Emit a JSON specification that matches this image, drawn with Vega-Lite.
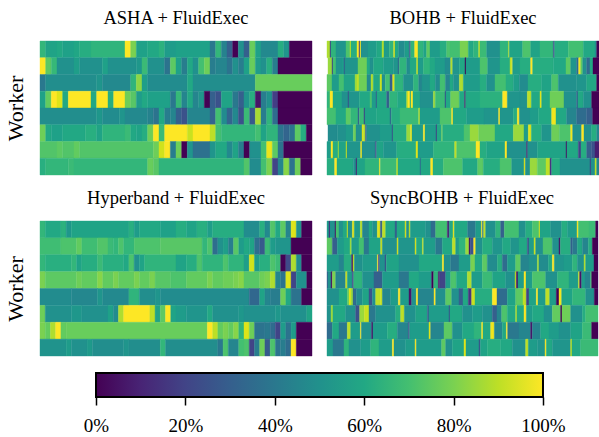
{"$schema":"https://vega.github.io/schema/vega-lite/v6.json","background":"white","padding":{"left":4,"top":9,"right":0,"bottom":0},"config":{"view":{"stroke":null},"font":"Liberation Serif","title":{"font":"Liberation Serif","fontSize":18.5,"fontWeight":"normal","color":"black","offset":13}},"spacing":15,"datasets":{"a":[
{"w":0,"s":0,"e":1,"v":66},{"w":0,"s":1,"e":3,"v":58},{"w":0,"s":3,"e":4,"v":60},{"w":0,"s":4,"e":6,"v":57},{"w":0,"s":6,"e":7,"v":59},{"w":0,"s":7,"e":9,"v":62},{"w":0,"s":9,"e":15,"v":65},{"w":0,"s":15,"e":16,"v":100},{"w":0,"s":16,"e":17,"v":80},{"w":0,"s":17,"e":19,"v":57},{"w":0,"s":19,"e":21,"v":60},{"w":0,"s":21,"e":22,"v":64},{"w":0,"s":22,"e":24,"v":55},{"w":0,"s":24,"e":30,"v":57},{"w":0,"s":30,"e":31,"v":40},{"w":0,"s":31,"e":32,"v":66},{"w":0,"s":32,"e":33,"v":44},{"w":0,"s":33,"e":34,"v":30},{"w":0,"s":34,"e":35,"v":0},{"w":0,"s":35,"e":36,"v":50},{"w":0,"s":36,"e":37,"v":30},{"w":0,"s":37,"e":38,"v":77},{"w":0,"s":38,"e":39,"v":57},{"w":0,"s":39,"e":42,"v":47},{"w":0,"s":42,"e":43,"v":62},{"w":0,"s":43,"e":44,"v":52},{"w":0,"s":44,"e":48,"v":0},
{"w":1,"s":0,"e":1,"v":100},{"w":1,"s":1,"e":2,"v":75},{"w":1,"s":2,"e":3,"v":67},{"w":1,"s":3,"e":6,"v":50},{"w":1,"s":6,"e":7,"v":56},{"w":1,"s":7,"e":11,"v":50},{"w":1,"s":11,"e":12,"v":57},{"w":1,"s":12,"e":17,"v":50},{"w":1,"s":17,"e":18,"v":53},{"w":1,"s":18,"e":19,"v":68},{"w":1,"s":19,"e":22,"v":50},{"w":1,"s":22,"e":23,"v":38},{"w":1,"s":23,"e":24,"v":75},{"w":1,"s":24,"e":25,"v":57},{"w":1,"s":25,"e":26,"v":42},{"w":1,"s":26,"e":27,"v":60},{"w":1,"s":27,"e":28,"v":50},{"w":1,"s":28,"e":29,"v":70},{"w":1,"s":29,"e":30,"v":78},{"w":1,"s":30,"e":31,"v":42},{"w":1,"s":31,"e":33,"v":45},{"w":1,"s":33,"e":34,"v":38},{"w":1,"s":34,"e":35,"v":50},{"w":1,"s":35,"e":36,"v":42},{"w":1,"s":36,"e":37,"v":57},{"w":1,"s":37,"e":38,"v":77},{"w":1,"s":38,"e":39,"v":55},{"w":1,"s":39,"e":40,"v":50},{"w":1,"s":40,"e":41,"v":63},{"w":1,"s":41,"e":42,"v":42},{"w":1,"s":42,"e":48,"v":0},
{"w":2,"s":0,"e":1,"v":40},{"w":2,"s":1,"e":10,"v":49},{"w":2,"s":10,"e":11,"v":52},{"w":2,"s":11,"e":16,"v":47},{"w":2,"s":16,"e":17,"v":65},{"w":2,"s":17,"e":18,"v":83},{"w":2,"s":18,"e":19,"v":56},{"w":2,"s":19,"e":26,"v":48},{"w":2,"s":26,"e":27,"v":60},{"w":2,"s":27,"e":38,"v":49},{"w":2,"s":38,"e":48,"v":77},
{"w":3,"s":0,"e":1,"v":57},{"w":3,"s":1,"e":2,"v":76},{"w":3,"s":2,"e":3,"v":100},{"w":3,"s":3,"e":4,"v":95},{"w":3,"s":4,"e":5,"v":60},{"w":3,"s":5,"e":9,"v":100},{"w":3,"s":9,"e":10,"v":60},{"w":3,"s":10,"e":12,"v":100},{"w":3,"s":12,"e":13,"v":62},{"w":3,"s":13,"e":15,"v":100},{"w":3,"s":15,"e":16,"v":78},{"w":3,"s":16,"e":17,"v":74},{"w":3,"s":17,"e":18,"v":55},{"w":3,"s":18,"e":19,"v":60},{"w":3,"s":19,"e":23,"v":57},{"w":3,"s":23,"e":24,"v":40},{"w":3,"s":24,"e":25,"v":67},{"w":3,"s":25,"e":26,"v":45},{"w":3,"s":26,"e":27,"v":60},{"w":3,"s":27,"e":28,"v":45},{"w":3,"s":28,"e":29,"v":52},{"w":3,"s":29,"e":30,"v":0},{"w":3,"s":30,"e":31,"v":30},{"w":3,"s":31,"e":32,"v":25},{"w":3,"s":32,"e":34,"v":58},{"w":3,"s":34,"e":35,"v":40},{"w":3,"s":35,"e":36,"v":30},{"w":3,"s":36,"e":37,"v":52},{"w":3,"s":37,"e":38,"v":63},{"w":3,"s":38,"e":39,"v":5},{"w":3,"s":39,"e":40,"v":42},{"w":3,"s":40,"e":41,"v":50},{"w":3,"s":41,"e":42,"v":18},{"w":3,"s":42,"e":48,"v":0},
{"w":4,"s":0,"e":10,"v":49},{"w":4,"s":10,"e":11,"v":53},{"w":4,"s":11,"e":14,"v":48},{"w":4,"s":14,"e":15,"v":52},{"w":4,"s":15,"e":19,"v":47},{"w":4,"s":19,"e":20,"v":44},{"w":4,"s":20,"e":21,"v":38},{"w":4,"s":21,"e":22,"v":60},{"w":4,"s":22,"e":23,"v":42},{"w":4,"s":23,"e":24,"v":45},{"w":4,"s":24,"e":25,"v":30},{"w":4,"s":25,"e":26,"v":25},{"w":4,"s":26,"e":30,"v":45},{"w":4,"s":30,"e":31,"v":32},{"w":4,"s":31,"e":32,"v":70},{"w":4,"s":32,"e":33,"v":48},{"w":4,"s":33,"e":34,"v":32},{"w":4,"s":34,"e":35,"v":47},{"w":4,"s":35,"e":36,"v":25},{"w":4,"s":36,"e":37,"v":68},{"w":4,"s":37,"e":38,"v":28},{"w":4,"s":38,"e":39,"v":87},{"w":4,"s":39,"e":40,"v":42},{"w":4,"s":40,"e":41,"v":65},{"w":4,"s":41,"e":42,"v":35},{"w":4,"s":42,"e":48,"v":0},
{"w":5,"s":0,"e":1,"v":78},{"w":5,"s":1,"e":2,"v":60},{"w":5,"s":2,"e":4,"v":57},{"w":5,"s":4,"e":8,"v":60},{"w":5,"s":8,"e":10,"v":63},{"w":5,"s":10,"e":11,"v":58},{"w":5,"s":11,"e":15,"v":65},{"w":5,"s":15,"e":16,"v":68},{"w":5,"s":16,"e":17,"v":60},{"w":5,"s":17,"e":18,"v":58},{"w":5,"s":18,"e":19,"v":62},{"w":5,"s":19,"e":20,"v":78},{"w":5,"s":20,"e":21,"v":100},{"w":5,"s":21,"e":22,"v":68},{"w":5,"s":22,"e":26,"v":100},{"w":5,"s":26,"e":27,"v":92},{"w":5,"s":27,"e":30,"v":100},{"w":5,"s":30,"e":31,"v":90},{"w":5,"s":31,"e":32,"v":70},{"w":5,"s":32,"e":38,"v":66},{"w":5,"s":38,"e":39,"v":70},{"w":5,"s":39,"e":40,"v":58},{"w":5,"s":40,"e":42,"v":65},{"w":5,"s":42,"e":43,"v":38},{"w":5,"s":43,"e":44,"v":32},{"w":5,"s":44,"e":45,"v":38},{"w":5,"s":45,"e":46,"v":75},{"w":5,"s":46,"e":47,"v":62},{"w":5,"s":47,"e":48,"v":0},
{"w":6,"s":0,"e":3,"v":73},{"w":6,"s":3,"e":4,"v":75},{"w":6,"s":4,"e":6,"v":73},{"w":6,"s":6,"e":7,"v":76},{"w":6,"s":7,"e":20,"v":73},{"w":6,"s":20,"e":21,"v":78},{"w":6,"s":21,"e":22,"v":93},{"w":6,"s":22,"e":23,"v":100},{"w":6,"s":23,"e":24,"v":42},{"w":6,"s":24,"e":25,"v":78},{"w":6,"s":25,"e":26,"v":0},{"w":6,"s":26,"e":27,"v":52},{"w":6,"s":27,"e":30,"v":37},{"w":6,"s":30,"e":31,"v":52},{"w":6,"s":31,"e":33,"v":60},{"w":6,"s":33,"e":34,"v":47},{"w":6,"s":34,"e":35,"v":58},{"w":6,"s":35,"e":36,"v":42},{"w":6,"s":36,"e":37,"v":0},{"w":6,"s":37,"e":39,"v":50},{"w":6,"s":39,"e":40,"v":70},{"w":6,"s":40,"e":41,"v":97},{"w":6,"s":41,"e":42,"v":75},{"w":6,"s":42,"e":43,"v":38},{"w":6,"s":43,"e":48,"v":0},
{"w":7,"s":0,"e":1,"v":63},{"w":7,"s":1,"e":5,"v":66},{"w":7,"s":5,"e":6,"v":68},{"w":7,"s":6,"e":19,"v":66},{"w":7,"s":19,"e":20,"v":77},{"w":7,"s":20,"e":21,"v":74},{"w":7,"s":21,"e":36,"v":65},{"w":7,"s":36,"e":37,"v":73},{"w":7,"s":37,"e":39,"v":48},{"w":7,"s":39,"e":40,"v":70},{"w":7,"s":40,"e":41,"v":80},{"w":7,"s":41,"e":42,"v":20},{"w":7,"s":42,"e":43,"v":45},{"w":7,"s":43,"e":44,"v":82},{"w":7,"s":44,"e":45,"v":38},{"w":7,"s":45,"e":46,"v":78},{"w":7,"s":46,"e":48,"v":0}
],"b":[
{"w":0,"s":21,"e":30,"v":88},{"w":0,"s":30,"e":33,"v":20},{"w":0,"s":33,"e":48,"v":65},{"w":0,"s":48,"e":78,"v":52},{"w":0,"s":78,"e":90,"v":72},{"w":0,"s":90,"e":93,"v":92},{"w":0,"s":93,"e":111,"v":62},{"w":0,"s":111,"e":117,"v":100},{"w":0,"s":117,"e":120,"v":20},{"w":0,"s":120,"e":123,"v":100},{"w":0,"s":123,"e":144,"v":50},{"w":0,"s":144,"e":170,"v":55},{"w":0,"s":170,"e":186,"v":60},{"w":0,"s":186,"e":192,"v":88},{"w":0,"s":192,"e":208,"v":55},{"w":0,"s":208,"e":221,"v":65},{"w":0,"s":221,"e":225,"v":95},{"w":0,"s":225,"e":236,"v":60},{"w":0,"s":236,"e":254,"v":48},{"w":0,"s":254,"e":268,"v":55},{"w":0,"s":268,"e":272,"v":25},{"w":0,"s":272,"e":284,"v":65},{"w":0,"s":284,"e":294,"v":100},{"w":0,"s":294,"e":310,"v":65},{"w":0,"s":310,"e":320,"v":58},{"w":0,"s":320,"e":330,"v":75},{"w":0,"s":330,"e":360,"v":55},{"w":0,"s":360,"e":380,"v":62},{"w":0,"s":380,"e":390,"v":72},{"w":0,"s":390,"e":420,"v":70},{"w":0,"s":420,"e":445,"v":80},{"w":0,"s":445,"e":460,"v":60},{"w":0,"s":460,"e":476,"v":65},{"w":0,"s":476,"e":480,"v":90},{"w":0,"s":480,"e":500,"v":68},{"w":0,"s":500,"e":540,"v":50},{"w":0,"s":540,"e":565,"v":65},{"w":0,"s":565,"e":568,"v":88},{"w":0,"s":568,"e":608,"v":58},{"w":0,"s":608,"e":632,"v":72},{"w":0,"s":632,"e":660,"v":58},{"w":0,"s":660,"e":700,"v":66},{"w":0,"s":700,"e":704,"v":25},{"w":0,"s":704,"e":745,"v":62},{"w":0,"s":745,"e":790,"v":70},{"w":0,"s":790,"e":825,"v":60},{"w":0,"s":825,"e":830,"v":50},{"w":0,"s":830,"e":837,"v":0},
{"w":1,"s":24,"e":36,"v":85},{"w":1,"s":36,"e":39,"v":20},{"w":1,"s":39,"e":48,"v":70},{"w":1,"s":48,"e":66,"v":52},{"w":1,"s":66,"e":72,"v":55},{"w":1,"s":72,"e":75,"v":30},{"w":1,"s":75,"e":114,"v":52},{"w":1,"s":114,"e":141,"v":78},{"w":1,"s":141,"e":150,"v":60},{"w":1,"s":150,"e":160,"v":50},{"w":1,"s":160,"e":190,"v":60},{"w":1,"s":190,"e":220,"v":55},{"w":1,"s":220,"e":234,"v":52},{"w":1,"s":234,"e":238,"v":35},{"w":1,"s":238,"e":260,"v":65},{"w":1,"s":260,"e":270,"v":48},{"w":1,"s":270,"e":290,"v":60},{"w":1,"s":290,"e":294,"v":92},{"w":1,"s":294,"e":310,"v":55},{"w":1,"s":310,"e":330,"v":65},{"w":1,"s":330,"e":345,"v":60},{"w":1,"s":345,"e":375,"v":55},{"w":1,"s":375,"e":392,"v":48},{"w":1,"s":392,"e":398,"v":88},{"w":1,"s":398,"e":418,"v":52},{"w":1,"s":418,"e":435,"v":60},{"w":1,"s":435,"e":438,"v":0},{"w":1,"s":438,"e":480,"v":55},{"w":1,"s":480,"e":503,"v":72},{"w":1,"s":503,"e":540,"v":52},{"w":1,"s":540,"e":570,"v":62},{"w":1,"s":570,"e":574,"v":90},{"w":1,"s":574,"e":578,"v":92},{"w":1,"s":578,"e":600,"v":55},{"w":1,"s":600,"e":632,"v":62},{"w":1,"s":632,"e":638,"v":100},{"w":1,"s":638,"e":700,"v":62},{"w":1,"s":700,"e":738,"v":60},{"w":1,"s":738,"e":752,"v":75},{"w":1,"s":752,"e":770,"v":52},{"w":1,"s":770,"e":776,"v":35},{"w":1,"s":776,"e":782,"v":98},{"w":1,"s":782,"e":788,"v":75},{"w":1,"s":788,"e":800,"v":50},{"w":1,"s":800,"e":810,"v":35},{"w":1,"s":810,"e":819,"v":60},{"w":1,"s":819,"e":837,"v":0},
{"w":2,"s":21,"e":36,"v":75},{"w":2,"s":36,"e":57,"v":55},{"w":2,"s":57,"e":72,"v":70},{"w":2,"s":72,"e":105,"v":58},{"w":2,"s":105,"e":111,"v":85},{"w":2,"s":111,"e":117,"v":90},{"w":2,"s":117,"e":141,"v":78},{"w":2,"s":141,"e":153,"v":48},{"w":2,"s":153,"e":160,"v":88},{"w":2,"s":160,"e":180,"v":60},{"w":2,"s":180,"e":186,"v":92},{"w":2,"s":186,"e":196,"v":50},{"w":2,"s":196,"e":210,"v":70},{"w":2,"s":210,"e":218,"v":30},{"w":2,"s":218,"e":224,"v":95},{"w":2,"s":224,"e":250,"v":65},{"w":2,"s":250,"e":280,"v":50},{"w":2,"s":280,"e":296,"v":65},{"w":2,"s":296,"e":306,"v":45},{"w":2,"s":306,"e":330,"v":52},{"w":2,"s":330,"e":346,"v":60},{"w":2,"s":346,"e":360,"v":48},{"w":2,"s":360,"e":376,"v":70},{"w":2,"s":376,"e":390,"v":45},{"w":2,"s":390,"e":400,"v":60},{"w":2,"s":400,"e":418,"v":50},{"w":2,"s":418,"e":430,"v":88},{"w":2,"s":430,"e":480,"v":55},{"w":2,"s":480,"e":500,"v":62},{"w":2,"s":500,"e":525,"v":50},{"w":2,"s":525,"e":558,"v":70},{"w":2,"s":558,"e":580,"v":62},{"w":2,"s":580,"e":598,"v":56},{"w":2,"s":598,"e":624,"v":48},{"w":2,"s":624,"e":665,"v":62},{"w":2,"s":665,"e":695,"v":58},{"w":2,"s":695,"e":715,"v":72},{"w":2,"s":715,"e":770,"v":50},{"w":2,"s":770,"e":800,"v":52},{"w":2,"s":800,"e":830,"v":60},{"w":2,"s":830,"e":837,"v":0},
{"w":3,"s":21,"e":30,"v":65},{"w":3,"s":30,"e":39,"v":100},{"w":3,"s":39,"e":66,"v":60},{"w":3,"s":66,"e":84,"v":50},{"w":3,"s":84,"e":87,"v":25},{"w":3,"s":87,"e":118,"v":52},{"w":3,"s":118,"e":150,"v":60},{"w":3,"s":150,"e":156,"v":72},{"w":3,"s":156,"e":168,"v":55},{"w":3,"s":168,"e":171,"v":30},{"w":3,"s":171,"e":200,"v":60},{"w":3,"s":200,"e":208,"v":30},{"w":3,"s":208,"e":232,"v":65},{"w":3,"s":232,"e":260,"v":60},{"w":3,"s":260,"e":264,"v":90},{"w":3,"s":264,"e":270,"v":100},{"w":3,"s":270,"e":273,"v":60},{"w":3,"s":273,"e":279,"v":100},{"w":3,"s":279,"e":300,"v":60},{"w":3,"s":300,"e":340,"v":50},{"w":3,"s":340,"e":346,"v":85},{"w":3,"s":346,"e":375,"v":68},{"w":3,"s":375,"e":378,"v":25},{"w":3,"s":378,"e":392,"v":60},{"w":3,"s":392,"e":418,"v":78},{"w":3,"s":418,"e":434,"v":60},{"w":3,"s":434,"e":437,"v":5},{"w":3,"s":437,"e":480,"v":60},{"w":3,"s":480,"e":548,"v":64},{"w":3,"s":548,"e":562,"v":100},{"w":3,"s":562,"e":600,"v":52},{"w":3,"s":600,"e":622,"v":50},{"w":3,"s":622,"e":634,"v":90},{"w":3,"s":634,"e":660,"v":60},{"w":3,"s":660,"e":665,"v":95},{"w":3,"s":665,"e":690,"v":60},{"w":3,"s":690,"e":732,"v":78},{"w":3,"s":732,"e":770,"v":50},{"w":3,"s":770,"e":774,"v":30},{"w":3,"s":774,"e":790,"v":60},{"w":3,"s":790,"e":815,"v":50},{"w":3,"s":815,"e":837,"v":0},
{"w":4,"s":21,"e":48,"v":70},{"w":4,"s":48,"e":78,"v":60},{"w":4,"s":78,"e":92,"v":75},{"w":4,"s":92,"e":114,"v":66},{"w":4,"s":114,"e":118,"v":30},{"w":4,"s":118,"e":132,"v":68},{"w":4,"s":132,"e":135,"v":20},{"w":4,"s":135,"e":170,"v":58},{"w":4,"s":170,"e":210,"v":60},{"w":4,"s":210,"e":214,"v":35},{"w":4,"s":214,"e":240,"v":62},{"w":4,"s":240,"e":296,"v":68},{"w":4,"s":296,"e":300,"v":88},{"w":4,"s":300,"e":360,"v":55},{"w":4,"s":360,"e":395,"v":72},{"w":4,"s":395,"e":399,"v":100},{"w":4,"s":399,"e":440,"v":60},{"w":4,"s":440,"e":492,"v":55},{"w":4,"s":492,"e":536,"v":52},{"w":4,"s":536,"e":540,"v":100},{"w":4,"s":540,"e":580,"v":52},{"w":4,"s":580,"e":592,"v":62},{"w":4,"s":592,"e":598,"v":100},{"w":4,"s":598,"e":630,"v":50},{"w":4,"s":630,"e":655,"v":55},{"w":4,"s":655,"e":695,"v":60},{"w":4,"s":695,"e":708,"v":98},{"w":4,"s":708,"e":740,"v":60},{"w":4,"s":740,"e":770,"v":45},{"w":4,"s":770,"e":800,"v":35},{"w":4,"s":800,"e":818,"v":30},{"w":4,"s":818,"e":837,"v":0},
{"w":5,"s":24,"e":52,"v":48},{"w":5,"s":52,"e":78,"v":50},{"w":5,"s":78,"e":100,"v":55},{"w":5,"s":100,"e":108,"v":78},{"w":5,"s":108,"e":126,"v":50},{"w":5,"s":126,"e":130,"v":95},{"w":5,"s":130,"e":136,"v":90},{"w":5,"s":136,"e":140,"v":30},{"w":5,"s":140,"e":180,"v":50},{"w":5,"s":180,"e":216,"v":55},{"w":5,"s":216,"e":219,"v":25},{"w":5,"s":219,"e":260,"v":62},{"w":5,"s":260,"e":272,"v":85},{"w":5,"s":272,"e":276,"v":98},{"w":5,"s":276,"e":310,"v":55},{"w":5,"s":310,"e":315,"v":100},{"w":5,"s":315,"e":348,"v":55},{"w":5,"s":348,"e":351,"v":20},{"w":5,"s":351,"e":365,"v":60},{"w":5,"s":365,"e":368,"v":80},{"w":5,"s":368,"e":432,"v":62},{"w":5,"s":432,"e":450,"v":72},{"w":5,"s":450,"e":476,"v":85},{"w":5,"s":476,"e":525,"v":78},{"w":5,"s":525,"e":580,"v":60},{"w":5,"s":580,"e":612,"v":85},{"w":5,"s":612,"e":625,"v":55},{"w":5,"s":625,"e":634,"v":95},{"w":5,"s":634,"e":665,"v":62},{"w":5,"s":665,"e":695,"v":52},{"w":5,"s":695,"e":718,"v":78},{"w":5,"s":718,"e":752,"v":72},{"w":5,"s":752,"e":758,"v":98},{"w":5,"s":758,"e":785,"v":50},{"w":5,"s":785,"e":792,"v":100},{"w":5,"s":792,"e":815,"v":50},{"w":5,"s":815,"e":830,"v":62},{"w":5,"s":830,"e":837,"v":45},
{"w":6,"s":21,"e":33,"v":55},{"w":6,"s":33,"e":39,"v":100},{"w":6,"s":39,"e":54,"v":62},{"w":6,"s":54,"e":57,"v":85},{"w":6,"s":57,"e":78,"v":58},{"w":6,"s":78,"e":81,"v":92},{"w":6,"s":81,"e":122,"v":52},{"w":6,"s":122,"e":126,"v":98},{"w":6,"s":126,"e":166,"v":50},{"w":6,"s":166,"e":170,"v":25},{"w":6,"s":170,"e":190,"v":58},{"w":6,"s":190,"e":230,"v":52},{"w":6,"s":230,"e":288,"v":62},{"w":6,"s":288,"e":294,"v":95},{"w":6,"s":294,"e":340,"v":55},{"w":6,"s":340,"e":404,"v":65},{"w":6,"s":404,"e":410,"v":90},{"w":6,"s":410,"e":468,"v":72},{"w":6,"s":468,"e":480,"v":100},{"w":6,"s":480,"e":500,"v":62},{"w":6,"s":500,"e":555,"v":58},{"w":6,"s":555,"e":561,"v":100},{"w":6,"s":561,"e":620,"v":50},{"w":6,"s":620,"e":623,"v":5},{"w":6,"s":623,"e":652,"v":50},{"w":6,"s":652,"e":738,"v":58},{"w":6,"s":738,"e":741,"v":5},{"w":6,"s":741,"e":775,"v":60},{"w":6,"s":775,"e":783,"v":20},{"w":6,"s":783,"e":800,"v":62},{"w":6,"s":800,"e":815,"v":30},{"w":6,"s":815,"e":825,"v":25},{"w":6,"s":825,"e":837,"v":8},
{"w":7,"s":21,"e":44,"v":62},{"w":7,"s":44,"e":51,"v":100},{"w":7,"s":51,"e":100,"v":60},{"w":7,"s":100,"e":108,"v":50},{"w":7,"s":108,"e":111,"v":10},{"w":7,"s":111,"e":135,"v":58},{"w":7,"s":135,"e":178,"v":65},{"w":7,"s":178,"e":181,"v":98},{"w":7,"s":181,"e":230,"v":68},{"w":7,"s":230,"e":234,"v":90},{"w":7,"s":234,"e":300,"v":60},{"w":7,"s":300,"e":303,"v":35},{"w":7,"s":303,"e":332,"v":60},{"w":7,"s":332,"e":339,"v":100},{"w":7,"s":339,"e":370,"v":62},{"w":7,"s":370,"e":428,"v":72},{"w":7,"s":428,"e":473,"v":60},{"w":7,"s":473,"e":490,"v":75},{"w":7,"s":490,"e":540,"v":62},{"w":7,"s":540,"e":575,"v":72},{"w":7,"s":575,"e":612,"v":52},{"w":7,"s":612,"e":616,"v":95},{"w":7,"s":616,"e":630,"v":50},{"w":7,"s":630,"e":652,"v":85},{"w":7,"s":652,"e":678,"v":75},{"w":7,"s":678,"e":690,"v":90},{"w":7,"s":690,"e":695,"v":15},{"w":7,"s":695,"e":720,"v":62},{"w":7,"s":720,"e":810,"v":50},{"w":7,"s":810,"e":813,"v":20},{"w":7,"s":813,"e":825,"v":50},{"w":7,"s":825,"e":830,"v":90},{"w":7,"s":830,"e":837,"v":45}
],"c":[
{"w":0,"s":0,"e":1,"v":66},{"w":0,"s":1,"e":4,"v":60},{"w":0,"s":4,"e":5,"v":64},{"w":0,"s":5,"e":6,"v":53},{"w":0,"s":6,"e":17,"v":58},{"w":0,"s":17,"e":18,"v":63},{"w":0,"s":18,"e":19,"v":55},{"w":0,"s":19,"e":23,"v":60},{"w":0,"s":23,"e":26,"v":57},{"w":0,"s":26,"e":28,"v":62},{"w":0,"s":28,"e":30,"v":58},{"w":0,"s":30,"e":32,"v":63},{"w":0,"s":32,"e":33,"v":56},{"w":0,"s":33,"e":39,"v":62},{"w":0,"s":39,"e":42,"v":48},{"w":0,"s":42,"e":43,"v":63},{"w":0,"s":43,"e":44,"v":47},{"w":0,"s":44,"e":45,"v":73},{"w":0,"s":45,"e":46,"v":60},{"w":0,"s":46,"e":47,"v":75},{"w":0,"s":47,"e":48,"v":45},{"w":0,"s":48,"e":49,"v":95},{"w":0,"s":49,"e":50,"v":50},{"w":0,"s":50,"e":52,"v":0},
{"w":1,"s":0,"e":4,"v":69},{"w":1,"s":4,"e":7,"v":72},{"w":1,"s":7,"e":8,"v":76},{"w":1,"s":8,"e":11,"v":69},{"w":1,"s":11,"e":13,"v":73},{"w":1,"s":13,"e":14,"v":68},{"w":1,"s":14,"e":15,"v":66},{"w":1,"s":15,"e":16,"v":72},{"w":1,"s":16,"e":18,"v":66},{"w":1,"s":18,"e":23,"v":72},{"w":1,"s":23,"e":31,"v":74},{"w":1,"s":31,"e":32,"v":66},{"w":1,"s":32,"e":33,"v":72},{"w":1,"s":33,"e":34,"v":36},{"w":1,"s":34,"e":35,"v":50},{"w":1,"s":35,"e":36,"v":56},{"w":1,"s":36,"e":37,"v":42},{"w":1,"s":37,"e":38,"v":74},{"w":1,"s":38,"e":39,"v":55},{"w":1,"s":39,"e":40,"v":60},{"w":1,"s":40,"e":41,"v":58},{"w":1,"s":41,"e":42,"v":36},{"w":1,"s":42,"e":43,"v":28},{"w":1,"s":43,"e":44,"v":68},{"w":1,"s":44,"e":45,"v":55},{"w":1,"s":45,"e":48,"v":52},{"w":1,"s":48,"e":52,"v":0},
{"w":2,"s":0,"e":1,"v":66},{"w":2,"s":1,"e":6,"v":63},{"w":2,"s":6,"e":7,"v":66},{"w":2,"s":7,"e":8,"v":58},{"w":2,"s":8,"e":11,"v":62},{"w":2,"s":11,"e":12,"v":68},{"w":2,"s":12,"e":16,"v":63},{"w":2,"s":16,"e":17,"v":60},{"w":2,"s":17,"e":18,"v":72},{"w":2,"s":18,"e":19,"v":50},{"w":2,"s":19,"e":20,"v":58},{"w":2,"s":20,"e":26,"v":65},{"w":2,"s":26,"e":28,"v":58},{"w":2,"s":28,"e":30,"v":62},{"w":2,"s":30,"e":31,"v":72},{"w":2,"s":31,"e":35,"v":65},{"w":2,"s":35,"e":36,"v":72},{"w":2,"s":36,"e":39,"v":65},{"w":2,"s":39,"e":40,"v":56},{"w":2,"s":40,"e":41,"v":93},{"w":2,"s":41,"e":42,"v":55},{"w":2,"s":42,"e":44,"v":63},{"w":2,"s":44,"e":45,"v":72},{"w":2,"s":45,"e":46,"v":68},{"w":2,"s":46,"e":47,"v":0},{"w":2,"s":47,"e":48,"v":22},{"w":2,"s":48,"e":49,"v":88},{"w":2,"s":49,"e":50,"v":48},{"w":2,"s":50,"e":52,"v":0},
{"w":3,"s":0,"e":1,"v":80},{"w":3,"s":1,"e":7,"v":75},{"w":3,"s":7,"e":8,"v":78},{"w":3,"s":8,"e":11,"v":76},{"w":3,"s":11,"e":12,"v":82},{"w":3,"s":12,"e":14,"v":76},{"w":3,"s":14,"e":15,"v":80},{"w":3,"s":15,"e":18,"v":76},{"w":3,"s":18,"e":19,"v":80},{"w":3,"s":19,"e":21,"v":76},{"w":3,"s":21,"e":22,"v":80},{"w":3,"s":22,"e":25,"v":74},{"w":3,"s":25,"e":28,"v":72},{"w":3,"s":28,"e":32,"v":76},{"w":3,"s":32,"e":33,"v":80},{"w":3,"s":33,"e":35,"v":76},{"w":3,"s":35,"e":37,"v":78},{"w":3,"s":37,"e":38,"v":80},{"w":3,"s":38,"e":39,"v":82},{"w":3,"s":39,"e":42,"v":74},{"w":3,"s":42,"e":43,"v":78},{"w":3,"s":43,"e":44,"v":80},{"w":3,"s":44,"e":45,"v":88},{"w":3,"s":45,"e":46,"v":45},{"w":3,"s":46,"e":47,"v":38},{"w":3,"s":47,"e":48,"v":95},{"w":3,"s":48,"e":49,"v":20},{"w":3,"s":49,"e":51,"v":50},{"w":3,"s":51,"e":52,"v":0},
{"w":4,"s":0,"e":6,"v":48},{"w":4,"s":6,"e":11,"v":46},{"w":4,"s":11,"e":12,"v":52},{"w":4,"s":12,"e":17,"v":47},{"w":4,"s":17,"e":19,"v":65},{"w":4,"s":19,"e":22,"v":49},{"w":4,"s":22,"e":23,"v":52},{"w":4,"s":23,"e":40,"v":48},{"w":4,"s":40,"e":42,"v":33},{"w":4,"s":42,"e":43,"v":58},{"w":4,"s":43,"e":44,"v":45},{"w":4,"s":44,"e":46,"v":42},{"w":4,"s":46,"e":47,"v":78},{"w":4,"s":47,"e":48,"v":60},{"w":4,"s":48,"e":50,"v":38},{"w":4,"s":50,"e":52,"v":0},
{"w":5,"s":0,"e":1,"v":78},{"w":5,"s":1,"e":6,"v":50},{"w":5,"s":6,"e":8,"v":53},{"w":5,"s":8,"e":13,"v":50},{"w":5,"s":13,"e":14,"v":57},{"w":5,"s":14,"e":15,"v":48},{"w":5,"s":15,"e":16,"v":88},{"w":5,"s":16,"e":21,"v":100},{"w":5,"s":21,"e":22,"v":90},{"w":5,"s":22,"e":23,"v":58},{"w":5,"s":23,"e":24,"v":75},{"w":5,"s":24,"e":25,"v":100},{"w":5,"s":25,"e":26,"v":58},{"w":5,"s":26,"e":28,"v":55},{"w":5,"s":28,"e":32,"v":52},{"w":5,"s":32,"e":33,"v":60},{"w":5,"s":33,"e":38,"v":50},{"w":5,"s":38,"e":39,"v":53},{"w":5,"s":39,"e":45,"v":50},{"w":5,"s":45,"e":46,"v":53},{"w":5,"s":46,"e":51,"v":50},{"w":5,"s":51,"e":52,"v":58},
{"w":6,"s":0,"e":1,"v":80},{"w":6,"s":1,"e":2,"v":76},{"w":6,"s":2,"e":3,"v":88},{"w":6,"s":3,"e":4,"v":100},{"w":6,"s":4,"e":5,"v":76},{"w":6,"s":5,"e":32,"v":77},{"w":6,"s":32,"e":33,"v":100},{"w":6,"s":33,"e":34,"v":90},{"w":6,"s":34,"e":35,"v":76},{"w":6,"s":35,"e":36,"v":80},{"w":6,"s":36,"e":37,"v":76},{"w":6,"s":37,"e":38,"v":82},{"w":6,"s":38,"e":39,"v":65},{"w":6,"s":39,"e":40,"v":95},{"w":6,"s":40,"e":41,"v":78},{"w":6,"s":41,"e":43,"v":38},{"w":6,"s":43,"e":44,"v":40},{"w":6,"s":44,"e":45,"v":35},{"w":6,"s":45,"e":46,"v":20},{"w":6,"s":46,"e":47,"v":55},{"w":6,"s":47,"e":48,"v":38},{"w":6,"s":48,"e":49,"v":55},{"w":6,"s":49,"e":52,"v":0},
{"w":7,"s":0,"e":5,"v":51},{"w":7,"s":5,"e":6,"v":55},{"w":7,"s":6,"e":9,"v":50},{"w":7,"s":9,"e":10,"v":54},{"w":7,"s":10,"e":16,"v":49},{"w":7,"s":16,"e":17,"v":52},{"w":7,"s":17,"e":23,"v":49},{"w":7,"s":23,"e":24,"v":66},{"w":7,"s":24,"e":34,"v":49},{"w":7,"s":34,"e":35,"v":40},{"w":7,"s":35,"e":36,"v":72},{"w":7,"s":36,"e":38,"v":45},{"w":7,"s":38,"e":39,"v":70},{"w":7,"s":39,"e":40,"v":72},{"w":7,"s":40,"e":41,"v":20},{"w":7,"s":41,"e":42,"v":42},{"w":7,"s":42,"e":43,"v":78},{"w":7,"s":43,"e":44,"v":28},{"w":7,"s":44,"e":45,"v":72},{"w":7,"s":45,"e":46,"v":38},{"w":7,"s":46,"e":47,"v":42},{"w":7,"s":47,"e":48,"v":35},{"w":7,"s":48,"e":49,"v":100},{"w":7,"s":49,"e":52,"v":0}
],"d":[
{"w":0,"s":24,"e":30,"v":55},{"w":0,"s":30,"e":33,"v":10},{"w":0,"s":33,"e":48,"v":50},{"w":0,"s":48,"e":51,"v":5},{"w":0,"s":51,"e":60,"v":70},{"w":0,"s":60,"e":72,"v":50},{"w":0,"s":72,"e":84,"v":60},{"w":0,"s":84,"e":87,"v":92},{"w":0,"s":87,"e":100,"v":50},{"w":0,"s":100,"e":106,"v":95},{"w":0,"s":106,"e":124,"v":55},{"w":0,"s":124,"e":130,"v":90},{"w":0,"s":130,"e":150,"v":45},{"w":0,"s":150,"e":160,"v":60},{"w":0,"s":160,"e":175,"v":50},{"w":0,"s":175,"e":184,"v":95},{"w":0,"s":184,"e":190,"v":30},{"w":0,"s":190,"e":200,"v":90},{"w":0,"s":200,"e":228,"v":60},{"w":0,"s":228,"e":234,"v":30},{"w":0,"s":234,"e":258,"v":60},{"w":0,"s":258,"e":262,"v":95},{"w":0,"s":262,"e":270,"v":50},{"w":0,"s":270,"e":274,"v":90},{"w":0,"s":274,"e":320,"v":55},{"w":0,"s":320,"e":336,"v":50},{"w":0,"s":336,"e":350,"v":35},{"w":0,"s":350,"e":385,"v":70},{"w":0,"s":385,"e":391,"v":10},{"w":0,"s":391,"e":402,"v":60},{"w":0,"s":402,"e":406,"v":98},{"w":0,"s":406,"e":446,"v":60},{"w":0,"s":446,"e":470,"v":40},{"w":0,"s":470,"e":487,"v":55},{"w":0,"s":487,"e":490,"v":100},{"w":0,"s":490,"e":494,"v":40},{"w":0,"s":494,"e":500,"v":90},{"w":0,"s":500,"e":530,"v":50},{"w":0,"s":530,"e":545,"v":65},{"w":0,"s":545,"e":556,"v":30},{"w":0,"s":556,"e":600,"v":70},{"w":0,"s":600,"e":620,"v":50},{"w":0,"s":620,"e":640,"v":62},{"w":0,"s":640,"e":660,"v":72},{"w":0,"s":660,"e":663,"v":95},{"w":0,"s":663,"e":695,"v":58},{"w":0,"s":695,"e":728,"v":50},{"w":0,"s":728,"e":745,"v":62},{"w":0,"s":745,"e":774,"v":55},{"w":0,"s":774,"e":778,"v":100},{"w":0,"s":778,"e":810,"v":70},{"w":0,"s":810,"e":830,"v":68},{"w":0,"s":830,"e":837,"v":0},
{"w":1,"s":24,"e":40,"v":75},{"w":1,"s":40,"e":55,"v":30},{"w":1,"s":55,"e":75,"v":55},{"w":1,"s":75,"e":93,"v":60},{"w":1,"s":93,"e":98,"v":85},{"w":1,"s":98,"e":120,"v":55},{"w":1,"s":120,"e":135,"v":70},{"w":1,"s":135,"e":150,"v":40},{"w":1,"s":150,"e":185,"v":58},{"w":1,"s":185,"e":190,"v":92},{"w":1,"s":190,"e":234,"v":50},{"w":1,"s":234,"e":238,"v":95},{"w":1,"s":238,"e":288,"v":52},{"w":1,"s":288,"e":292,"v":95},{"w":1,"s":292,"e":310,"v":60},{"w":1,"s":310,"e":314,"v":90},{"w":1,"s":314,"e":350,"v":55},{"w":1,"s":350,"e":370,"v":40},{"w":1,"s":370,"e":400,"v":60},{"w":1,"s":400,"e":410,"v":90},{"w":1,"s":410,"e":420,"v":55},{"w":1,"s":420,"e":440,"v":65},{"w":1,"s":440,"e":450,"v":85},{"w":1,"s":450,"e":454,"v":5},{"w":1,"s":454,"e":464,"v":25},{"w":1,"s":464,"e":470,"v":100},{"w":1,"s":470,"e":490,"v":50},{"w":1,"s":490,"e":520,"v":62},{"w":1,"s":520,"e":550,"v":52},{"w":1,"s":550,"e":575,"v":60},{"w":1,"s":575,"e":600,"v":52},{"w":1,"s":600,"e":625,"v":60},{"w":1,"s":625,"e":630,"v":25},{"w":1,"s":630,"e":645,"v":55},{"w":1,"s":645,"e":650,"v":92},{"w":1,"s":650,"e":672,"v":50},{"w":1,"s":672,"e":700,"v":72},{"w":1,"s":700,"e":720,"v":50},{"w":1,"s":720,"e":724,"v":5},{"w":1,"s":724,"e":755,"v":62},{"w":1,"s":755,"e":760,"v":30},{"w":1,"s":760,"e":775,"v":40},{"w":1,"s":775,"e":790,"v":60},{"w":1,"s":790,"e":808,"v":45},{"w":1,"s":808,"e":820,"v":62},{"w":1,"s":820,"e":837,"v":0},
{"w":2,"s":24,"e":60,"v":55},{"w":2,"s":60,"e":75,"v":45},{"w":2,"s":75,"e":98,"v":62},{"w":2,"s":98,"e":102,"v":5},{"w":2,"s":102,"e":106,"v":90},{"w":2,"s":106,"e":130,"v":50},{"w":2,"s":130,"e":175,"v":55},{"w":2,"s":175,"e":178,"v":100},{"w":2,"s":178,"e":182,"v":20},{"w":2,"s":182,"e":198,"v":50},{"w":2,"s":198,"e":202,"v":25},{"w":2,"s":202,"e":240,"v":58},{"w":2,"s":240,"e":300,"v":50},{"w":2,"s":300,"e":370,"v":60},{"w":2,"s":370,"e":375,"v":100},{"w":2,"s":375,"e":395,"v":50},{"w":2,"s":395,"e":420,"v":40},{"w":2,"s":420,"e":455,"v":55},{"w":2,"s":455,"e":468,"v":80},{"w":2,"s":468,"e":490,"v":60},{"w":2,"s":490,"e":505,"v":75},{"w":2,"s":505,"e":535,"v":48},{"w":2,"s":535,"e":550,"v":62},{"w":2,"s":550,"e":565,"v":35},{"w":2,"s":565,"e":590,"v":55},{"w":2,"s":590,"e":605,"v":75},{"w":2,"s":605,"e":630,"v":45},{"w":2,"s":630,"e":655,"v":50},{"w":2,"s":655,"e":660,"v":85},{"w":2,"s":660,"e":688,"v":48},{"w":2,"s":688,"e":700,"v":60},{"w":2,"s":700,"e":706,"v":100},{"w":2,"s":706,"e":735,"v":52},{"w":2,"s":735,"e":760,"v":55},{"w":2,"s":760,"e":775,"v":65},{"w":2,"s":775,"e":795,"v":50},{"w":2,"s":795,"e":800,"v":88},{"w":2,"s":800,"e":825,"v":55},{"w":2,"s":825,"e":837,"v":0},
{"w":3,"s":24,"e":27,"v":30},{"w":3,"s":27,"e":36,"v":50},{"w":3,"s":36,"e":40,"v":5},{"w":3,"s":40,"e":50,"v":80},{"w":3,"s":50,"e":80,"v":45},{"w":3,"s":80,"e":85,"v":92},{"w":3,"s":85,"e":100,"v":55},{"w":3,"s":100,"e":104,"v":20},{"w":3,"s":104,"e":130,"v":65},{"w":3,"s":130,"e":165,"v":50},{"w":3,"s":165,"e":190,"v":30},{"w":3,"s":190,"e":240,"v":55},{"w":3,"s":240,"e":270,"v":40},{"w":3,"s":270,"e":300,"v":60},{"w":3,"s":300,"e":338,"v":55},{"w":3,"s":338,"e":344,"v":0},{"w":3,"s":344,"e":358,"v":65},{"w":3,"s":358,"e":362,"v":5},{"w":3,"s":362,"e":380,"v":20},{"w":3,"s":380,"e":395,"v":55},{"w":3,"s":395,"e":412,"v":72},{"w":3,"s":412,"e":445,"v":60},{"w":3,"s":445,"e":458,"v":88},{"w":3,"s":458,"e":490,"v":55},{"w":3,"s":490,"e":520,"v":68},{"w":3,"s":520,"e":560,"v":58},{"w":3,"s":560,"e":588,"v":50},{"w":3,"s":588,"e":592,"v":90},{"w":3,"s":592,"e":597,"v":5},{"w":3,"s":597,"e":615,"v":55},{"w":3,"s":615,"e":621,"v":100},{"w":3,"s":621,"e":640,"v":55},{"w":3,"s":640,"e":680,"v":72},{"w":3,"s":680,"e":715,"v":50},{"w":3,"s":715,"e":750,"v":65},{"w":3,"s":750,"e":778,"v":55},{"w":3,"s":778,"e":782,"v":90},{"w":3,"s":782,"e":788,"v":5},{"w":3,"s":788,"e":798,"v":55},{"w":3,"s":798,"e":815,"v":45},{"w":3,"s":815,"e":818,"v":70},{"w":3,"s":818,"e":837,"v":0},
{"w":4,"s":24,"e":60,"v":50},{"w":4,"s":60,"e":85,"v":60},{"w":4,"s":85,"e":90,"v":75},{"w":4,"s":90,"e":96,"v":95},{"w":4,"s":96,"e":102,"v":85},{"w":4,"s":102,"e":112,"v":35},{"w":4,"s":112,"e":130,"v":48},{"w":4,"s":130,"e":150,"v":58},{"w":4,"s":150,"e":160,"v":25},{"w":4,"s":160,"e":170,"v":50},{"w":4,"s":170,"e":184,"v":90},{"w":4,"s":184,"e":190,"v":92},{"w":4,"s":190,"e":215,"v":45},{"w":4,"s":215,"e":238,"v":55},{"w":4,"s":238,"e":244,"v":100},{"w":4,"s":244,"e":270,"v":55},{"w":4,"s":270,"e":278,"v":5},{"w":4,"s":278,"e":292,"v":50},{"w":4,"s":292,"e":297,"v":100},{"w":4,"s":297,"e":345,"v":45},{"w":4,"s":345,"e":350,"v":100},{"w":4,"s":350,"e":380,"v":50},{"w":4,"s":380,"e":398,"v":75},{"w":4,"s":398,"e":420,"v":50},{"w":4,"s":420,"e":432,"v":30},{"w":4,"s":432,"e":448,"v":60},{"w":4,"s":448,"e":458,"v":15},{"w":4,"s":458,"e":468,"v":92},{"w":4,"s":468,"e":520,"v":62},{"w":4,"s":520,"e":534,"v":100},{"w":4,"s":534,"e":565,"v":35},{"w":4,"s":565,"e":590,"v":58},{"w":4,"s":590,"e":612,"v":75},{"w":4,"s":612,"e":622,"v":90},{"w":4,"s":622,"e":630,"v":20},{"w":4,"s":630,"e":652,"v":58},{"w":4,"s":652,"e":657,"v":100},{"w":4,"s":657,"e":680,"v":55},{"w":4,"s":680,"e":692,"v":90},{"w":4,"s":692,"e":712,"v":55},{"w":4,"s":712,"e":720,"v":0},{"w":4,"s":720,"e":728,"v":98},{"w":4,"s":728,"e":760,"v":58},{"w":4,"s":760,"e":800,"v":66},{"w":4,"s":800,"e":826,"v":50},{"w":4,"s":826,"e":837,"v":0},
{"w":5,"s":24,"e":36,"v":50},{"w":5,"s":36,"e":42,"v":85},{"w":5,"s":42,"e":80,"v":60},{"w":5,"s":80,"e":110,"v":50},{"w":5,"s":110,"e":122,"v":25},{"w":5,"s":122,"e":136,"v":85},{"w":5,"s":136,"e":150,"v":92},{"w":5,"s":150,"e":170,"v":40},{"w":5,"s":170,"e":230,"v":50},{"w":5,"s":230,"e":245,"v":62},{"w":5,"s":245,"e":256,"v":90},{"w":5,"s":256,"e":290,"v":50},{"w":5,"s":290,"e":325,"v":58},{"w":5,"s":325,"e":330,"v":30},{"w":5,"s":330,"e":390,"v":55},{"w":5,"s":390,"e":393,"v":25},{"w":5,"s":393,"e":430,"v":60},{"w":5,"s":430,"e":460,"v":50},{"w":5,"s":460,"e":490,"v":55},{"w":5,"s":490,"e":520,"v":50},{"w":5,"s":520,"e":534,"v":30},{"w":5,"s":534,"e":548,"v":45},{"w":5,"s":548,"e":565,"v":72},{"w":5,"s":565,"e":590,"v":60},{"w":5,"s":590,"e":594,"v":88},{"w":5,"s":594,"e":615,"v":60},{"w":5,"s":615,"e":622,"v":100},{"w":5,"s":622,"e":640,"v":55},{"w":5,"s":640,"e":675,"v":60},{"w":5,"s":675,"e":700,"v":50},{"w":5,"s":700,"e":725,"v":76},{"w":5,"s":725,"e":729,"v":0},{"w":5,"s":729,"e":755,"v":78},{"w":5,"s":755,"e":790,"v":50},{"w":5,"s":790,"e":800,"v":62},{"w":5,"s":800,"e":837,"v":70},
{"w":6,"s":24,"e":40,"v":35},{"w":6,"s":40,"e":60,"v":60},{"w":6,"s":60,"e":85,"v":40},{"w":6,"s":85,"e":95,"v":90},{"w":6,"s":95,"e":124,"v":55},{"w":6,"s":124,"e":127,"v":100},{"w":6,"s":127,"e":158,"v":50},{"w":6,"s":158,"e":162,"v":5},{"w":6,"s":162,"e":205,"v":55},{"w":6,"s":205,"e":235,"v":62},{"w":6,"s":235,"e":268,"v":45},{"w":6,"s":268,"e":272,"v":25},{"w":6,"s":272,"e":330,"v":55},{"w":6,"s":330,"e":335,"v":95},{"w":6,"s":335,"e":375,"v":45},{"w":6,"s":375,"e":400,"v":75},{"w":6,"s":400,"e":430,"v":50},{"w":6,"s":430,"e":465,"v":60},{"w":6,"s":465,"e":488,"v":65},{"w":6,"s":488,"e":492,"v":100},{"w":6,"s":492,"e":515,"v":60},{"w":6,"s":515,"e":526,"v":98},{"w":6,"s":526,"e":550,"v":45},{"w":6,"s":550,"e":562,"v":60},{"w":6,"s":562,"e":566,"v":100},{"w":6,"s":566,"e":600,"v":40},{"w":6,"s":600,"e":635,"v":45},{"w":6,"s":635,"e":640,"v":5},{"w":6,"s":640,"e":665,"v":45},{"w":6,"s":665,"e":690,"v":60},{"w":6,"s":690,"e":720,"v":55},{"w":6,"s":720,"e":755,"v":50},{"w":6,"s":755,"e":790,"v":58},{"w":6,"s":790,"e":818,"v":68},{"w":6,"s":818,"e":837,"v":0},
{"w":7,"s":24,"e":42,"v":55},{"w":7,"s":42,"e":75,"v":40},{"w":7,"s":75,"e":90,"v":65},{"w":7,"s":90,"e":125,"v":50},{"w":7,"s":125,"e":155,"v":55},{"w":7,"s":155,"e":180,"v":65},{"w":7,"s":180,"e":220,"v":55},{"w":7,"s":220,"e":225,"v":100},{"w":7,"s":225,"e":260,"v":50},{"w":7,"s":260,"e":288,"v":55},{"w":7,"s":288,"e":292,"v":100},{"w":7,"s":292,"e":368,"v":55},{"w":7,"s":368,"e":380,"v":75},{"w":7,"s":380,"e":400,"v":50},{"w":7,"s":400,"e":435,"v":58},{"w":7,"s":435,"e":441,"v":95},{"w":7,"s":441,"e":480,"v":55},{"w":7,"s":480,"e":484,"v":25},{"w":7,"s":484,"e":505,"v":58},{"w":7,"s":505,"e":545,"v":62},{"w":7,"s":545,"e":580,"v":60},{"w":7,"s":580,"e":620,"v":50},{"w":7,"s":620,"e":628,"v":90},{"w":7,"s":628,"e":655,"v":55},{"w":7,"s":655,"e":678,"v":52},{"w":7,"s":678,"e":682,"v":100},{"w":7,"s":682,"e":700,"v":60},{"w":7,"s":700,"e":755,"v":52},{"w":7,"s":755,"e":759,"v":90},{"w":7,"s":759,"e":785,"v":60},{"w":7,"s":785,"e":837,"v":68}
],"bar":[{"lo":0,"hi":100}]},"vconcat":[{"spacing":13,"vconcat":[{"spacing":13,"hconcat":[{"title":"ASHA + FluidExec","width":272,"height":134,"data":{"name":"a"},"mark":{"type":"rect","strokeWidth":0.4},"encoding":{"x":{"field":"s","type":"quantitative","axis":null,"scale":{"domain":[0,48],"nice":false,"zero":false}},"x2":{"field":"e"},"y":{"field":"w","type":"ordinal","scale":{"domain":[0,1,2,3,4,5,6,7],"paddingInner":0,"paddingOuter":0},"axis":{"title":"Worker","titleFontSize":22,"titleFont":"Liberation Serif","titleFontWeight":"normal","labels":false,"ticks":false,"domain":false,"titlePadding":13}},"color":{"field":"v","type":"quantitative","scale":{"scheme":"viridis","domain":[0,100]},"legend":null},"stroke":{"field":"v","type":"quantitative","scale":{"scheme":"viridis","domain":[0,100]},"legend":null}}},{"title":"BOHB + FluidExec","width":272,"height":134,"data":{"name":"b"},"mark":{"type":"rect","strokeWidth":0.4},"encoding":{"x":{"field":"s","type":"quantitative","axis":null,"scale":{"domain":[21,837],"nice":false,"zero":false}},"x2":{"field":"e"},"y":{"field":"w","type":"ordinal","axis":null,"scale":{"domain":[0,1,2,3,4,5,6,7],"paddingInner":0,"paddingOuter":0}},"color":{"field":"v","type":"quantitative","scale":{"scheme":"viridis","domain":[0,100]},"legend":null},"stroke":{"field":"v","type":"quantitative","scale":{"scheme":"viridis","domain":[0,100]},"legend":null}}}]},{"spacing":13,"hconcat":[{"title":"Hyperband + FluidExec","width":272,"height":135,"data":{"name":"c"},"mark":{"type":"rect","strokeWidth":0.4},"encoding":{"x":{"field":"s","type":"quantitative","axis":null,"scale":{"domain":[0,52],"nice":false,"zero":false}},"x2":{"field":"e"},"y":{"field":"w","type":"ordinal","scale":{"domain":[0,1,2,3,4,5,6,7],"paddingInner":0,"paddingOuter":0},"axis":{"title":"Worker","titleFontSize":22,"titleFont":"Liberation Serif","titleFontWeight":"normal","labels":false,"ticks":false,"domain":false,"titlePadding":13}},"color":{"field":"v","type":"quantitative","scale":{"scheme":"viridis","domain":[0,100]},"legend":null},"stroke":{"field":"v","type":"quantitative","scale":{"scheme":"viridis","domain":[0,100]},"legend":null}}},{"title":"SyncBOHB + FluidExec","width":272,"height":135,"data":{"name":"d"},"mark":{"type":"rect","strokeWidth":0.4},"encoding":{"x":{"field":"s","type":"quantitative","axis":null,"scale":{"domain":[21,837],"nice":false,"zero":false}},"x2":{"field":"e"},"y":{"field":"w","type":"ordinal","axis":null,"scale":{"domain":[0,1,2,3,4,5,6,7],"paddingInner":0,"paddingOuter":0}},"color":{"field":"v","type":"quantitative","scale":{"scheme":"viridis","domain":[0,100]},"legend":null},"stroke":{"field":"v","type":"quantitative","scale":{"scheme":"viridis","domain":[0,100]},"legend":null}}}]}]},{"width":559,"height":24,"data":{"name":"bar"},"mark":{"type":"rect","stroke":"black","strokeWidth":2,"fill":{"gradient":"linear","x1":0,"y1":0,"x2":1,"y2":0,"stops":[{"offset":0,"color":"#440154"},{"offset":0.1,"color":"#482475"},{"offset":0.2,"color":"#414487"},{"offset":0.3,"color":"#355f8d"},{"offset":0.4,"color":"#2a788e"},{"offset":0.5,"color":"#21918c"},{"offset":0.6,"color":"#22a884"},{"offset":0.7,"color":"#44bf70"},{"offset":0.8,"color":"#7ad151"},{"offset":0.9,"color":"#bddf26"},{"offset":1,"color":"#fde725"}]}},"encoding":{"x":{"field":"lo","type":"quantitative","scale":{"domain":[-12.53,112.53],"nice":false,"zero":false},"axis":{"values":[0,20,40,60,80,100],"title":null,"grid":false,"domain":false,"tickColor":"black","tickWidth":1.5,"tickSize":8,"labelFont":"Liberation Serif","labelFontSize":19,"labelColor":"black","labelPadding":11,"labelExpr":"datum.value + '%'"}},"x2":{"field":"hi"}}}]}
